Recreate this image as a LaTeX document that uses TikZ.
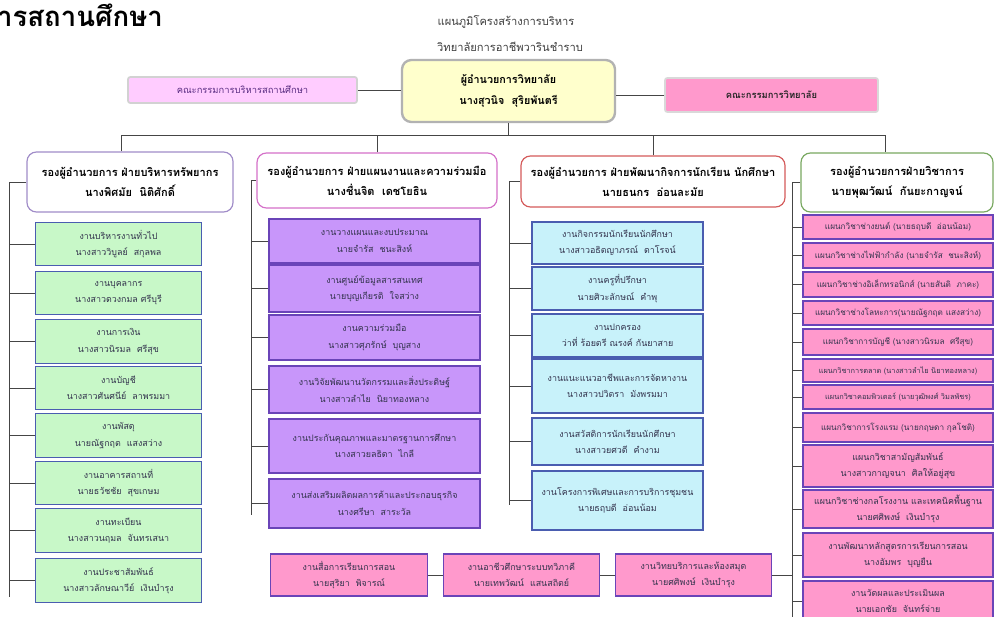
\documentclass[tikz,border=0pt]{standalone}
\usepackage{fontspec}
\newfontfamily\thai[Script=Thai]{Loma}

\definecolor{lineGray}{HTML}{454545}
\definecolor{dirFill}{HTML}{FFFFCC}
\definecolor{lilacFill}{HTML}{FFCCFF}
\definecolor{pinkFill}{HTML}{FF99CC}
\definecolor{greenFill}{HTML}{C8F8C8}
\definecolor{violetFill}{HTML}{C896FA}
\definecolor{cyanFill}{HTML}{C8F2FA}
\definecolor{blueEdge}{HTML}{4A5DB0}
\definecolor{violetEdge}{HTML}{6A44B8}
\definecolor{headViolet}{HTML}{A08CC8}
\definecolor{headMagenta}{HTML}{D470C8}
\definecolor{headRed}{HTML}{D45A5A}
\definecolor{headGreen}{HTML}{78A860}
\definecolor{boxText}{HTML}{33334D}
\definecolor{comText}{HTML}{5A2D82}

\begin{document}
\begin{tikzpicture}[x=0.03cm, y=-0.03cm,
    line/.style={draw=lineGray, line width=0.8pt},
    head/.style={rounded corners=8pt, fill=white, line width=1pt, align=center,
      font=\thai\bfseries\fontsize{9.4}{17}\selectfont},
    unit/.style={align=center, inner sep=1pt, line width=1pt, text=boxText,
      font=\thai\fontsize{7.6}{14}\selectfont},
    gbox/.style={unit, fill=greenFill, draw=blueEdge, minimum width=5.0cm, minimum height=1.3cm},
    vbox/.style={unit, fill=violetFill, draw=violetEdge, minimum width=6.33cm},
    cbox/.style={unit, fill=cyanFill, draw=blueEdge, minimum width=5.13cm},
    pbox/.style={unit, fill=pinkFill, draw=violetEdge, minimum width=5.7cm},
    prow/.style={pbox, font=\thai\fontsize{7}{13}\selectfont},
    sbox/.style={unit, fill=pinkFill, draw=violetEdge, minimum width=4.7cm, minimum height=1.26cm}]

  \useasboundingbox (0,0) rectangle (995,617);
  \fill[white] (0,0) rectangle (995,617);

  % heading
  \node[anchor=base east, font=\thai\bfseries\fontsize{23.5}{26}\selectfont] (T0) at (167,26) {การสถานศึกษา};
  \node[font=\thai\fontsize{9.5}{12}\selectfont, text=black!75] (T1) at (506,22) {แผนภูมิโครงสร้างการบริหาร};
  \node[font=\thai\fontsize{9.5}{12}\selectfont, text=black!75] (T2) at (510,47) {วิทยาลัยการอาชีพวารินชำราบ};

  % top level
  \node[fill=dirFill, draw=gray!60, line width=2pt, rounded corners=8pt, align=center,
    minimum width=6.39cm, minimum height=1.86cm,
    font=\thai\bfseries\fontsize{9.2}{18}\selectfont](D) at (508.5,91){ผู้อำนวยการวิทยาลัย\\นางสุวนิจ~~สุริยพันตรี};
  \node[fill=lilacFill, draw=gray!35, line width=1.5pt, rounded corners=2pt, text=comText,
    minimum width=6.87cm, minimum height=0.78cm,
    font=\thai\fontsize{8}{10}\selectfont](K1) at (242.5,90){คณะกรรมการบริหารสถานศึกษา};
  \node[fill=pinkFill, draw=gray!30, line width=1.5pt, rounded corners=2pt, text=black!85,
    minimum width=6.39cm, minimum height=1.02cm,
    font=\thai\bfseries\fontsize{8}{10}\selectfont](K2) at (771.5,95){คณะกรรมการวิทยาลัย};

  % deputies
  \node[head, draw=headViolet, minimum width=6.18cm, minimum height=1.8cm](H1) at (130,182){รองผู้อำนวยการ ฝ่ายบริหารทรัพยากร\\นางพิศมัย~~นิติศักดิ์};
  \node[head, draw=headMagenta, minimum width=7.2cm, minimum height=1.65cm](H2) at (377,180.5){รองผู้อำนวยการ ฝ่ายแผนงานและความร่วมมือ\\นางชื่นจิต~~เดชโยธิน};
  \node[head, draw=headRed, minimum width=7.92cm, minimum height=1.53cm](H3) at (653,181.5){รองผู้อำนวยการ ฝ่ายพัฒนากิจการนักเรียน นักศึกษา\\นายธนกร~~อ่อนละมัย};
  \node[head, draw=headGreen, minimum width=5.76cm, minimum height=1.77cm](H4) at (897,182.5){รองผู้อำนวยการฝ่ายวิชาการ\\นายพุฒวัฒน์~~กันยะกาญจน์};

  % resources
  \node[gbox](G1) at (118.5,244){งานบริหารงานทั่วไป\\นางสาววิบูลย์~~สกุลพล};
  \node[gbox](G2) at (118.5,293){งานบุคลากร\\นางสาวดวงกมล ศรีบุรี};
  \node[gbox](G3) at (118.5,341.5){งานการเงิน\\นางสาวนิรมล~~ศรีสุข};
  \node[gbox](G4) at (118.5,388){งานบัญชี\\นางสาวศันศนีย์~~ลาพรมมา};
  \node[gbox](G5) at (118.5,435.5){งานพัสดุ\\นายณัฐกฤต~~แสงสว่าง};
  \node[gbox](G6) at (118.5,483){งานอาคารสถานที่\\นายธวัชชัย~~สุขเกษม};
  \node[gbox](G7) at (118.5,530.5){งานทะเบียน\\นางสาวนฤมล~~จันทรเสนา};
  \node[gbox](G8) at (118.5,580.5){งานประชาสัมพันธ์\\นางสาวลักษณาวีย์~~เงินบำรุง};

  % planning
  \node[vbox, minimum height=1.32cm](P1) at (374.5,241){งานวางแผนและงบประมาณ\\นายจำรัส~~ชนะสิงห์};
  \node[vbox, minimum height=1.41cm](P2) at (374.5,288.5){งานศูนย์ข้อมูลสารสนเทศ\\นายบุญเกียรติ~~ใจสว่าง};
  \node[vbox, minimum height=1.35cm](P3) at (374.5,337.5){งานความร่วมมือ\\นางสาวศุภรักษ์~~บุญสาง};
  \node[vbox, minimum height=1.41cm](P4) at (374.5,389.5){งานวิจัยพัฒนานวัตกรรมและสิ่งประดิษฐ์\\นางสาวลำไย~~นิยาทองหลาง};
  \node[vbox, minimum height=1.62cm](P5) at (374.5,446){งานประกันคุณภาพและมาตรฐานการศึกษา\\นางสาวยลธิดา~~ไกลี};
  \node[vbox, minimum height=1.47cm](P6) at (374.5,503.5){งานส่งเสริมผลิตผลการค้าและประกอบธุรกิจ\\นางศรีษา~~สาระวัล};

  % students
  \node[cbox, minimum height=1.26cm](C1) at (617.5,243){งานกิจกรรมนักเรียนนักศึกษา\\นางสาวอธิตญาภรณ์~~ดาโรจน์};
  \node[cbox, minimum height=1.29cm](C2) at (617.5,288.5){งานครูที่ปรึกษา\\นายศิวะลักษณ์~~คำพุ};
  \node[cbox, minimum height=1.29cm](C3) at (617.5,335.5){งานปกครอง\\ว่าที่ ร้อยตรี ณรงค์ กันยาสาย};
  \node[cbox, minimum height=1.62cm](C4) at (617.5,386){งานแนะแนวอาชีพและการจัดหางาน\\นางสาวปวิตรา~~มังพรมมา};
  \node[cbox, minimum height=1.41cm](C5) at (617.5,441.5){งานสวัสดิการนักเรียนนักศึกษา\\นางสาวยศวดี~~คำงาม};
  \node[cbox, minimum height=1.77cm](C6) at (617.5,500.5){งานโครงการพิเศษและการบริการชุมชน\\นายธฤบดี~~อ่อนน้อม};

  % academic
  \node[prow, minimum height=0.72cm](M1) at (898,227){แผนกวิชาช่างยนต์ (นายธฤบดี~~อ่อนน้อม)};
  \node[prow, minimum height=0.75cm](M2) at (898,255.5){แผนกวิชาช่างไฟฟ้ากำลัง (นายจำรัส~~ชนะสิงห์)};
  \node[prow, minimum height=0.75cm](M3) at (898,284.5){แผนกวิชาช่างอิเล็กทรอนิกส์ (นายสันติ~~ภาคะ)};
  \node[prow, minimum height=0.72cm](M4) at (898,313){แผนกวิชาช่างโลหะการ(นายณัฐกฤต แสงสว่าง)};
  \node[prow, minimum height=0.78cm](M5) at (898,342){แผนกวิชาการบัญชี (นางสาวนิรมล~~ศรีสุข)};
  \node[prow, minimum height=0.69cm, font=\thai\fontsize{6.3}{12}\selectfont](M6) at (898,370.5){แผนกวิชาการตลาด (นางสาวลำไย นิยาทองหลาง)};
  \node[prow, minimum height=0.72cm, font=\thai\fontsize{6.3}{12}\selectfont](M7) at (898,397){แผนกวิชาคอมพิวเตอร์ (นายวุฒิพงศ์ วิมลพัชร)};
  \node[prow, minimum height=0.87cm](M8) at (898,427.5){แผนกวิชาการโรงแรม (นายกฤษดา กุลโชติ)};
  \node[pbox, minimum height=1.26cm](M9) at (898,466){แผนกวิชาสามัญสัมพันธ์\\นางสาวกาญจนา~~ศิลให้อยู่สุข};
  \node[pbox, minimum height=1.14cm](M10) at (898,509){แผนกวิชาช่างกลโรงงาน และเทคนิคพื้นฐาน\\นายศศิพงษ์~~เงินบำรุง};
  \node[pbox, minimum height=1.32cm](M11) at (898,555){งานพัฒนาหลักสูตรการเรียนการสอน\\นางอัมพร~~บุญยืน};
  \node[pbox, minimum height=1.2cm](M12) at (898,601){งานวัดผลและประเมินผล\\นายเอกชัย~~จันทร์จ่าย};

  % bottom row
  \node[sbox](S1) at (349,575){งานสื่อการเรียนการสอน\\นายสุริยา~~พิจารณ์};
  \node[sbox](S2) at (521.5,575){งานอาชีวศึกษาระบบทวิภาคี\\นายเทพวัฒน์~~แสนสถิตย์};
  \node[sbox](S3) at (693.5,575){งานวิทยบริการและห้องสมุด\\นายศศิพงษ์~~เงินบำรุง};

  % bus and spines
  \coordinate (BL) at (121,135);
  \coordinate (BR) at (885,135);
  \coordinate (L1) at (9,182);     \coordinate (E1) at (9,597);
  \coordinate (L2) at (251,180.5); \coordinate (E2) at (251,515);
  \coordinate (L3) at (509,181.5); \coordinate (E3) at (509,505);
  \coordinate (L4) at (792,182.5); \coordinate (E4) at (792,640);

  \draw[line] (K1.east) -- (K1.east -| D.west);
  \draw[line] (K2.west) -- (K2.west -| D.east);
  \draw[line] (D.south) -- (D.south |- BL);
  \draw[line] (H1.north -| BL) -- (BL) -- (BR) -- (H4.north -| BR);
  \draw[line] (H2.north) -- (H2.north |- BL);
  \draw[line] (H3.north) -- (H3.north |- BL);

  \draw[line] (H1.west) -- (L1) -- (E1);
  \draw[line] (H2.west) -- (L2) -- (E2);
  \draw[line] (H3.west) -- (L3) -- (E3);
  \draw[line] (H4.west) -- (L4) -- (E4);

  \draw[line] (G1.west) -- (G1.west -| L1);
  \draw[line] (G2.west) -- (G2.west -| L1);
  \draw[line] (G3.west) -- (G3.west -| L1);
  \draw[line] (G4.west) -- (G4.west -| L1);
  \draw[line] (G5.west) -- (G5.west -| L1);
  \draw[line] (G6.west) -- (G6.west -| L1);
  \draw[line] (G7.west) -- (G7.west -| L1);
  \draw[line] (G8.west) -- (G8.west -| L1);

  \draw[line] (P1.west) -- (P1.west -| L2);
  \draw[line] (P2.west) -- (P2.west -| L2);
  \draw[line] (P3.west) -- (P3.west -| L2);
  \draw[line] (P4.west) -- (P4.west -| L2);
  \draw[line] (P5.west) -- (P5.west -| L2);
  \draw[line] (P6.west) -- (P6.west -| L2);

  \draw[line] (C1.west) -- (C1.west -| L3);
  \draw[line] (C2.west) -- (C2.west -| L3);
  \draw[line] (C3.west) -- (C3.west -| L3);
  \draw[line] (C4.west) -- (C4.west -| L3);
  \draw[line] (C5.west) -- (C5.west -| L3);
  \draw[line] (C6.west) -- (C6.west -| L3);

  \draw[line] (M1.west) -- (M1.west -| L4);
  \draw[line] (M2.west) -- (M2.west -| L4);
  \draw[line] (M3.west) -- (M3.west -| L4);
  \draw[line] (M4.west) -- (M4.west -| L4);
  \draw[line] (M5.west) -- (M5.west -| L4);
  \draw[line] (M6.west) -- (M6.west -| L4);
  \draw[line] (M7.west) -- (M7.west -| L4);
  \draw[line] (M8.west) -- (M8.west -| L4);
  \draw[line] (M9.west) -- (M9.west -| L4);
  \draw[line] (M10.west) -- (M10.west -| L4);
  \draw[line] (M11.west) -- (M11.west -| L4);
  \draw[line] (M12.west) -- (M12.west -| L4);

  \draw[line] (S1.east) -- (S2.west);
  \draw[line] (S2.east) -- (S3.west);
  \draw[line] (S3.east) -- (S3.east -| L4);
\end{tikzpicture}
\end{document}
